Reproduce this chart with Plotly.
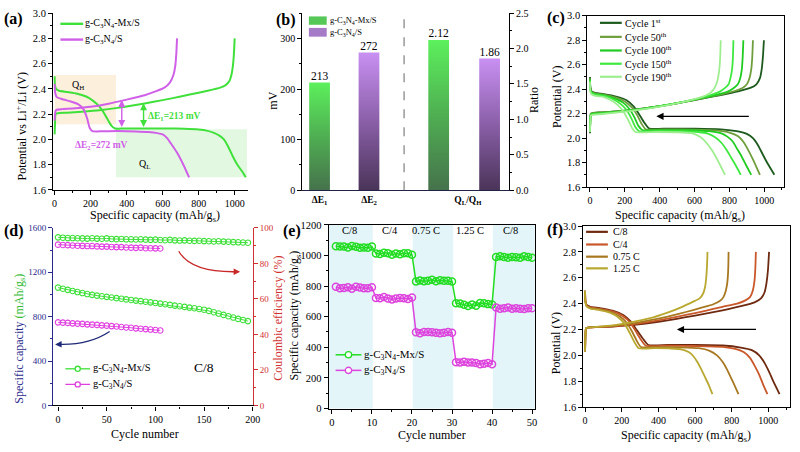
import plotly.graph_objects as go

W, H = 800, 452
FONT = "Liberation Serif"


def px(x):
    return x / W


def py(y):
    return 1 - y / H


# ---------------- DATA ----------------
# (a) voltage profiles
a_mx_dis_x = [0, 2, 8, 25, 70, 125, 190, 235, 265, 290, 315, 336, 380, 500, 620, 720, 800, 850, 885, 915, 940, 965, 990, 1015, 1040, 1062]
a_mx_dis_y = [2.50, 2.43, 2.40, 2.385, 2.375, 2.362, 2.33, 2.28, 2.23, 2.17, 2.11, 2.087, 2.086, 2.087, 2.087, 2.084, 2.078, 2.068, 2.052, 2.03, 2.0, 1.94, 1.865, 1.80, 1.75, 1.70]
a_mx_ch_x = [0, 2, 4, 8, 20, 70, 150, 250, 350, 450, 550, 650, 750, 850, 920, 950, 970, 982, 990, 996, 1000]
a_mx_ch_y = [2.04, 2.12, 2.19, 2.205, 2.208, 2.212, 2.22, 2.232, 2.25, 2.273, 2.298, 2.325, 2.355, 2.385, 2.41, 2.43, 2.46, 2.51, 2.58, 2.68, 2.80]
a_cn_dis_x = [0, 3, 12, 40, 90, 130, 160, 180, 195, 210, 260, 350, 450, 520, 570, 600, 625, 645, 678, 715, 747]
a_cn_dis_y = [2.44, 2.37, 2.335, 2.32, 2.30, 2.28, 2.24, 2.17, 2.09, 2.066, 2.064, 2.066, 2.063, 2.058, 2.05, 2.04, 2.01, 1.97, 1.90, 1.80, 1.70]
a_cn_ch_x = [0, 2, 5, 12, 40, 100, 200, 300, 400, 500, 560, 610, 640, 660, 670, 676, 680]
a_cn_ch_y = [2.15, 2.19, 2.225, 2.235, 2.24, 2.245, 2.258, 2.283, 2.315, 2.35, 2.38, 2.41, 2.45, 2.51, 2.58, 2.68, 2.80]

# (b) bars
b_mv_vals = [213, 272]
b_ratio_vals = [2.12, 1.86]
b_ticklabels = ["<b>ΔE<sub>1</sub></b>", "<b>ΔE<sub>2</sub></b>", "<b>Q<sub>L</sub>/Q<sub>H</sub></b>"]

# (c) cycling profiles
c_names = ["Cycle 1<sup>st</sup>", "Cycle 50<sup>th</sup>", "Cycle 100<sup>th</sup>", "Cycle 150<sup>th</sup>", "Cycle 190<sup>th</sup>"]
c_dis_x = [
    [0, 2, 8, 30, 80, 150, 210, 250, 280, 310, 340, 450, 600, 750, 850, 900, 935, 965, 990, 1020, 1058],
    [0, 2, 8, 30, 80, 150, 200, 240, 270, 295, 320, 450, 600, 720, 800, 850, 880, 905, 930, 950, 975],
    [0, 2, 8, 30, 80, 140, 190, 225, 255, 278, 300, 420, 560, 680, 750, 790, 820, 845, 870, 895, 925],
    [0, 2, 8, 30, 80, 130, 175, 210, 238, 260, 280, 400, 520, 620, 680, 720, 755, 785, 810, 835, 865],
    [0, 2, 8, 30, 80, 120, 160, 195, 222, 242, 260, 380, 500, 580, 620, 650, 675, 700, 725, 750, 775],
]
c_dis_y = [
    [2.50, 2.42, 2.385, 2.37, 2.36, 2.34, 2.31, 2.26, 2.2, 2.13, 2.078, 2.078, 2.078, 2.072, 2.055, 2.035, 2.0, 1.94, 1.87, 1.79, 1.70],
    [2.49, 2.41, 2.38, 2.365, 2.355, 2.33, 2.30, 2.25, 2.19, 2.12, 2.072, 2.072, 2.07, 2.063, 2.045, 2.015, 1.97, 1.91, 1.84, 1.78, 1.70],
    [2.48, 2.40, 2.375, 2.36, 2.35, 2.325, 2.29, 2.24, 2.17, 2.10, 2.066, 2.066, 2.064, 2.057, 2.04, 2.01, 1.97, 1.91, 1.85, 1.78, 1.70],
    [2.47, 2.39, 2.37, 2.355, 2.345, 2.32, 2.28, 2.23, 2.16, 2.09, 2.058, 2.058, 2.056, 2.05, 2.035, 2.005, 1.96, 1.90, 1.84, 1.78, 1.70],
    [2.46, 2.38, 2.36, 2.345, 2.335, 2.31, 2.27, 2.21, 2.14, 2.08, 2.05, 2.05, 2.048, 2.04, 2.02, 1.99, 1.95, 1.90, 1.84, 1.77, 1.70],
]
c_ch_x = [
    [0, 2, 5, 15, 60, 150, 250, 350, 450, 550, 650, 750, 850, 920, 955, 975, 985, 992, 998],
    [0, 2, 5, 15, 60, 150, 250, 350, 450, 550, 650, 750, 830, 875, 900, 915, 925, 931, 935],
    [0, 2, 5, 15, 60, 150, 250, 350, 450, 550, 650, 730, 790, 825, 848, 862, 871, 876, 880],
    [0, 2, 5, 15, 60, 150, 250, 350, 450, 550, 640, 700, 745, 775, 795, 806, 815, 820, 823],
    [0, 2, 5, 15, 60, 150, 250, 350, 450, 550, 630, 680, 705, 722, 733, 740, 745, 748, 750],
]
c_ch_y = [
    [2.04, 2.15, 2.2, 2.205, 2.21, 2.218, 2.232, 2.25, 2.272, 2.298, 2.325, 2.352, 2.382, 2.41, 2.44, 2.49, 2.56, 2.66, 2.80],
    [2.05, 2.15, 2.2, 2.205, 2.21, 2.218, 2.232, 2.25, 2.272, 2.298, 2.327, 2.356, 2.385, 2.41, 2.44, 2.49, 2.56, 2.66, 2.80],
    [2.05, 2.15, 2.195, 2.2, 2.205, 2.215, 2.23, 2.25, 2.273, 2.3, 2.33, 2.355, 2.38, 2.41, 2.44, 2.49, 2.56, 2.66, 2.80],
    [2.05, 2.14, 2.19, 2.195, 2.2, 2.212, 2.228, 2.248, 2.273, 2.3, 2.33, 2.355, 2.38, 2.41, 2.44, 2.49, 2.56, 2.66, 2.80],
    [2.05, 2.13, 2.185, 2.19, 2.195, 2.208, 2.225, 2.245, 2.27, 2.3, 2.33, 2.36, 2.39, 2.43, 2.48, 2.54, 2.61, 2.70, 2.80],
]

# (d) long cycling (every 5th cycle)
d_mx_cycles = list(range(0, 200, 5))
d_mx_cap = [1062, 1052, 1042, 1032, 1022, 1013, 1004, 997, 990, 984, 979, 973, 967, 962, 956, 951, 945, 940, 935, 929,
            924, 918, 912, 906, 900, 894, 888, 882, 876, 869, 863, 852, 840, 828, 816, 804, 792, 780, 770, 760]
d_mx_ce = [94.7, 94.5, 94.3, 94.3, 94.2, 94.1, 94.0, 94.2, 94.0, 93.9, 94.1, 93.8, 93.7, 93.8, 93.6, 93.6, 93.5, 93.6, 93.4, 93.3,
           93.4, 93.2, 93.1, 93.3, 93.0, 92.9, 93.0, 92.8, 92.7, 92.8, 92.6, 92.5, 92.4, 92.5, 92.3, 92.2, 92.0, 91.9, 91.8, 91.7]
d_cn_cycles = list(range(0, 110, 5))
d_cn_cap = [749, 746, 744, 740, 737, 735, 731, 728, 726, 722, 719, 715, 712, 707, 703, 700, 695, 691, 688, 684, 680, 676]
d_cn_ce = [90.6, 90.4, 90.3, 90.1, 90.0, 89.9, 89.8, 89.8, 89.6, 89.5, 89.5, 89.3, 89.2, 89.2, 89.0, 88.9, 88.8, 88.9, 88.6, 88.6, 88.5, 88.4]

# (e) rate capability
e_cycles = list(range(1, 51))
e_mx = [1060, 1058, 1058, 1052, 1062, 1057, 1050, 1052, 1050, 1058,
        1012, 1010, 1018, 1015, 1005, 1012, 1008, 1015, 1015, 1005,
        830, 836, 832, 835, 842, 832, 838, 835, 834, 830,
        688, 686, 678, 670, 680, 672, 690, 688, 682, 680,
        990, 995, 990, 985, 990, 988, 985, 995, 990, 985]
e_cn = [795, 785, 788, 792, 782, 795, 790, 785, 785, 792,
        722, 720, 728, 718, 712, 718, 722, 720, 715, 725,
        498, 492, 500, 500, 498, 495, 492, 495, 500, 495,
        302, 300, 306, 300, 300, 298, 290, 292, 298, 290,
        660, 652, 655, 660, 652, 655, 652, 650, 655, 655]
e_rates = ["C/8", "C/4", "0.75 C", "1.25 C", "C/8"]
e_rate_pos = [4.3, 14.4, 23.6, 34.6, 44.6]

# (f) rate profiles
f_names = ["C/8", "C/4", "0.75 C", "1.25 C"]
f_dis_x = [
    [0, 2, 8, 30, 80, 150, 210, 250, 280, 315, 345, 450, 600, 750, 850, 910, 950, 980, 1005, 1030, 1061],
    [0, 2, 8, 30, 80, 150, 205, 245, 275, 305, 332, 450, 600, 750, 820, 865, 900, 925, 950, 970, 995],
    [0, 2, 8, 30, 80, 140, 190, 228, 258, 283, 305, 400, 520, 620, 680, 720, 750, 775, 795, 815, 837],
    [0, 2, 8, 30, 80, 135, 180, 215, 245, 270, 292, 380, 470, 530, 565, 590, 612, 635, 655, 675, 695],
]
f_dis_y = [
    [2.50, 2.42, 2.39, 2.375, 2.365, 2.345, 2.31, 2.26, 2.2, 2.13, 2.08, 2.08, 2.08, 2.076, 2.06, 2.04, 2.0, 1.94, 1.87, 1.79, 1.70],
    [2.50, 2.42, 2.385, 2.37, 2.36, 2.34, 2.305, 2.255, 2.19, 2.12, 2.074, 2.074, 2.072, 2.066, 2.05, 2.025, 1.98, 1.92, 1.85, 1.78, 1.70],
    [2.50, 2.41, 2.38, 2.365, 2.355, 2.335, 2.30, 2.25, 2.18, 2.11, 2.064, 2.064, 2.062, 2.055, 2.035, 2.0, 1.95, 1.89, 1.83, 1.77, 1.70],
    [2.50, 2.41, 2.38, 2.36, 2.35, 2.33, 2.295, 2.245, 2.17, 2.10, 2.055, 2.055, 2.053, 2.045, 2.025, 1.995, 1.95, 1.89, 1.83, 1.77, 1.70],
]
f_ch_x = [
    [0, 2, 5, 15, 60, 150, 250, 350, 450, 550, 650, 750, 850, 925, 960, 980, 990, 998, 1004],
    [0, 2, 5, 15, 60, 150, 250, 350, 450, 550, 650, 750, 830, 875, 900, 915, 924, 929, 932],
    [0, 2, 5, 15, 60, 150, 250, 350, 450, 550, 640, 700, 735, 755, 768, 776, 780, 782, 783],
    [0, 2, 5, 15, 60, 150, 250, 350, 450, 530, 590, 625, 645, 655, 661, 665, 667, 668],
]
f_ch_y = [
    [2.03, 2.15, 2.21, 2.215, 2.218, 2.222, 2.233, 2.25, 2.27, 2.295, 2.32, 2.348, 2.38, 2.41, 2.44, 2.49, 2.56, 2.66, 2.80],
    [2.03, 2.15, 2.21, 2.215, 2.218, 2.224, 2.238, 2.258, 2.283, 2.312, 2.342, 2.375, 2.40, 2.425, 2.45, 2.50, 2.57, 2.67, 2.80],
    [2.03, 2.15, 2.21, 2.215, 2.22, 2.228, 2.245, 2.27, 2.30, 2.335, 2.37, 2.395, 2.42, 2.45, 2.50, 2.56, 2.63, 2.71, 2.80],
    [2.03, 2.15, 2.21, 2.215, 2.22, 2.232, 2.255, 2.285, 2.33, 2.375, 2.415, 2.44, 2.48, 2.53, 2.60, 2.68, 2.75, 2.80],
]

# ---------------- STYLE ----------------
GREEN = "#3fe03a"
PURPLE = "#d060e8"
C_COLORS = ["#1d5a1d", "#6f9e3c", "#1fcc1f", "#3fe83f", "#9eee90"]
F_COLORS = ["#6e2a10", "#c8582a", "#a87820", "#b8a830"]
NAVY = "#2a2a8c"
RED = "#d03030"
TFS = 12   # axis-title font size

fig = go.Figure()
shapes = []
annotations = []


def line_trace(x, y, color, xa, ya, width=2.0, dash=None):
    fig.add_trace(go.Scatter(x=x, y=y, mode="lines", xaxis=xa, yaxis=ya, showlegend=False,
                             line=dict(color=color, width=width, dash=dash, shape="spline", smoothing=0.5),
                             hoverinfo="skip"))


def leg_entry(x0, x1, y, color, text, tx, size, width=2.0, marker=False, mr=2.6):
    shapes.append(dict(type="line", xref="paper", yref="paper", x0=px(x0), x1=px(x1), y0=py(y), y1=py(y),
                       line=dict(color=color, width=width)))
    if marker:
        cx = (x0 + x1) / 2
        shapes.append(dict(type="circle", xref="paper", yref="paper", x0=px(cx - mr), x1=px(cx + mr),
                           y0=py(y + mr), y1=py(y - mr), fillcolor="white", line=dict(color=color, width=1.3)))
    annotations.append(dict(xref="paper", yref="paper", x=px(tx), y=py(y), text=text, showarrow=False,
                            xanchor="left", yanchor="middle", borderpad=0,
                            font=dict(family=FONT, size=size, color="black")))


def leg_rect(x0, x1, y0, y1, color, text, tx, size):
    shapes.append(dict(type="rect", xref="paper", yref="paper", x0=px(x0), x1=px(x1), y0=py(y1), y1=py(y0),
                       fillcolor=color, line=dict(width=0)))
    annotations.append(dict(xref="paper", yref="paper", x=px(tx), y=py((y0 + y1) / 2), text=text, showarrow=False,
                            xanchor="left", yanchor="middle", borderpad=0,
                            font=dict(family=FONT, size=size, color="black")))


def panel_label(x, y, t):
    annotations.append(dict(xref="paper", yref="paper", x=px(x), y=py(y), text="<b>" + t + "</b>", showarrow=False,
                            xanchor="center", yanchor="middle", borderpad=0,
                            font=dict(family=FONT, size=16, color="black")))


def axis_title(x, y, text, vertical=False, color="black", size=TFS):
    annotations.append(dict(xref="paper", yref="paper", x=px(x), y=py(y), text=text, showarrow=False,
                            xanchor="center", yanchor="middle", textangle=-90 if vertical else 0, borderpad=0,
                            font=dict(family=FONT, size=size, color=color)))


def ax(domain, rng, dtick, minor_dtick, color="black", mirror=False, fmt=None, anchor=None, fs=10.5,
       fcolor="black", **kw):
    d = dict(domain=domain, range=rng, dtick=dtick, tick0=0, ticks="outside", ticklen=4, tickwidth=1,
             tickcolor=color, showline=True, linecolor=color, linewidth=1.2, mirror=mirror, showgrid=False,
             zeroline=False, tickfont=dict(family=FONT, size=fs, color=fcolor),
             minor=dict(ticks="outside", ticklen=2, dtick=minor_dtick, tickcolor=color, showgrid=False))
    if fmt:
        d["tickformat"] = fmt
    if anchor:
        d["anchor"] = anchor
    d.update(kw)
    return d


# ---------------- (a) ----------------
line_trace(a_mx_dis_x, a_mx_dis_y, GREEN, "x", "y")
line_trace(a_mx_ch_x, a_mx_ch_y, GREEN, "x", "y")
line_trace(a_cn_dis_x, a_cn_dis_y, PURPLE, "x", "y")
line_trace(a_cn_ch_x, a_cn_ch_y, PURPLE, "x", "y")
shapes.append(dict(type="rect", xref="x", yref="y", x0=0, x1=341, y0=2.12, y1=2.51,
                   fillcolor="#fcefdc", line=dict(width=0), layer="below"))
shapes.append(dict(type="rect", xref="x", yref="y", x0=341, x1=1068, y0=1.70, y1=2.08,
                   fillcolor="#e3f8e1", line=dict(width=0), layer="below"))
annotations += [
    dict(xref="x", yref="y", x=130, y=2.43, text="Q<sub>H</sub>", showarrow=False,
         font=dict(family=FONT, size=10, color="black")),
    dict(xref="x", yref="y", x=500, y=1.80, text="Q<sub>L</sub>", showarrow=False,
         font=dict(family=FONT, size=10, color="black")),
    dict(xref="x", yref="y", x=373, y=2.313, ax=373, ay=2.087, axref="x", ayref="y", text="",
         showarrow=True, arrowhead=2, startarrowhead=2, arrowside="end+start", arrowsize=1, arrowwidth=1.4,
         arrowcolor=PURPLE),
    dict(xref="x", yref="y", x=494, y=2.287, ax=494, ay=2.087, axref="x", ayref="y", text="",
         showarrow=True, arrowhead=2, startarrowhead=2, arrowside="end+start", arrowsize=1, arrowwidth=1.4,
         arrowcolor=GREEN),
    dict(xref="x", yref="y", x=507, y=2.185, text="<b>ΔE<sub>1</sub>=213 mV</b>", showarrow=False, xanchor="left",
         font=dict(family=FONT, size=9.5, color=GREEN)),
    dict(xref="x", yref="y", x=104, y=1.955, text="<b>ΔE<sub>2</sub>=272 mV</b>", showarrow=False, xanchor="left",
         font=dict(family=FONT, size=9.5, color=PURPLE)),
]
leg_entry(60, 83, 18.3, GREEN, "g-C<sub>3</sub>N<sub>4</sub>-Mx/S", 84, 10, width=2.4)
leg_entry(60, 83, 34.5, PURPLE, "g-C<sub>3</sub>N<sub>4</sub>/S", 84, 10, width=2.4)
axis_title(21, 124, "Potential vs Li<sup>+</sup>/Li (V)", vertical=True)
axis_title(156, 216, "Specific capacity (mAh/g<sub>s</sub>)")

# ---------------- (b) ----------------
b_pos_mv = [0, 1]
b_pos_ratio = [2.41, 3.44]
bw = 0.42
G_SCALE = [[0, "#46724c"], [0.5, "#4fae52"], [1, "#5cf05c"]]
P_SCALE = [[0, "#4a3458"], [0.5, "#8a5fa8"], [1, "#c890f2"]]
for pos, val, scale, ya in [(b_pos_mv[0], b_mv_vals[0], G_SCALE, "y2"), (b_pos_mv[1], b_mv_vals[1], P_SCALE, "y2"),
                            (b_pos_ratio[0], b_ratio_vals[0], G_SCALE, "y7"),
                            (b_pos_ratio[1], b_ratio_vals[1], P_SCALE, "y7")]:
    fig.add_trace(go.Scatter(x=[pos - bw / 2, pos + bw / 2, pos + bw / 2, pos - bw / 2, pos - bw / 2],
                             y=[0, 0, val, val, 0], mode="lines", fill="toself", xaxis="x2", yaxis=ya,
                             line=dict(width=0), showlegend=False, hoverinfo="skip",
                             fillgradient=dict(type="vertical", colorscale=scale)))
fig.add_trace(go.Scatter(x=b_pos_mv, y=b_mv_vals, mode="text", text=[str(v) for v in b_mv_vals],
                         textposition="top center", xaxis="x2", yaxis="y2", showlegend=False,
                         textfont=dict(family=FONT, size=11.5, color="black"), hoverinfo="skip"))
fig.add_trace(go.Scatter(x=b_pos_ratio, y=b_ratio_vals, mode="text", text=["%.2f" % v for v in b_ratio_vals],
                         textposition="top center", xaxis="x2", yaxis="y7", showlegend=False,
                         textfont=dict(family=FONT, size=11.5, color="black"), hoverinfo="skip"))
shapes.append(dict(type="line", xref="x2", yref="paper", x0=1.71, x1=1.71, y0=py(189.3), y1=py(7.3),
                   line=dict(color="#666666", width=1, dash="dash")))
leg_rect(311, 329, 10.7, 19.3, "#55c858", "g-C<sub>3</sub>N<sub>4</sub>-Mx/S", 331, 8.5)
leg_rect(311, 329, 22.5, 31.5, "#a57bc8", "g-C<sub>3</sub>N<sub>4</sub>/S", 331, 8.5)
axis_title(275, 97, "mV", vertical=True)
axis_title(539, 97, "Ratio", vertical=True)

# ---------------- (c) ----------------
for i in range(5):
    line_trace(c_dis_x[i], c_dis_y[i], C_COLORS[i], "x3", "y3", width=1.8)
    line_trace(c_ch_x[i], c_ch_y[i], C_COLORS[i], "x3", "y3", width=1.8)
annotations.append(dict(xref="x3", yref="y3", x=381, y=2.178, ax=920, ay=2.178, axref="x3", ayref="y3", text="",
                        showarrow=True, arrowhead=2, arrowsize=1.1, arrowwidth=1.3, arrowcolor="black"))
for i, yy in enumerate([17.3, 31.7, 45.7, 59.3, 72.7]):
    leg_entry(605, 627, yy, C_COLORS[i], c_names[i], 629, 10, width=2.2)
axis_title(561, 93, "Potential (V)", vertical=True)
axis_title(686, 216, "Specific capacity (mAh/g<sub>s</sub>)")

# ---------------- (d) ----------------
fig.add_trace(go.Scatter(x=d_mx_cycles, y=d_mx_cap, mode="lines+markers", xaxis="x4", yaxis="y4", showlegend=False,
                         line=dict(color=GREEN, width=1), hoverinfo="skip",
                         marker=dict(symbol="circle-open", size=5.5, color=GREEN, line=dict(width=1.1))))
fig.add_trace(go.Scatter(x=d_cn_cycles, y=d_cn_cap, mode="lines+markers", xaxis="x4", yaxis="y4", showlegend=False,
                         line=dict(color="#e040e0", width=1), hoverinfo="skip",
                         marker=dict(symbol="circle-open", size=5.5, color="#e040e0", line=dict(width=1.1))))
fig.add_trace(go.Scatter(x=d_mx_cycles, y=d_mx_ce, mode="lines+markers", xaxis="x4", yaxis="y8", showlegend=False,
                         line=dict(color=GREEN, width=1), hoverinfo="skip",
                         marker=dict(symbol="circle-open", size=5.5, color=GREEN, line=dict(width=1.1))))
fig.add_trace(go.Scatter(x=d_cn_cycles, y=d_cn_ce, mode="lines+markers", xaxis="x4", yaxis="y8", showlegend=False,
                         line=dict(color="#e040e0", width=1), hoverinfo="skip",
                         marker=dict(symbol="circle-open", size=5.5, color="#e040e0", line=dict(width=1.1))))
shapes.append(dict(type="path", xref="x4", yref="y4", path="M 53,667 Q 32,545 2,551",
                   line=dict(color="#1e2a78", width=1.3)))
annotations.append(dict(xref="x4", yref="y4", x=-3, y=550, ax=4, ay=551, axref="x4", ayref="y4", text="",
                        showarrow=True, arrowhead=2, arrowsize=1, arrowwidth=1.3, arrowcolor="#1e2a78"))
shapes.append(dict(type="path", xref="x4", yref="y4", path="M 124,1390 Q 136,1205 180,1205",
                   line=dict(color="#c82828", width=1.3)))
annotations.append(dict(xref="x4", yref="y4", x=187, y=1205, ax=178, ay=1205, axref="x4", ayref="y4", text="",
                        showarrow=True, arrowhead=2, arrowsize=1, arrowwidth=1.3, arrowcolor="#c82828"))
annotations.append(dict(xref="x4", yref="y4", x=150, y=345, text="C/8", showarrow=False,
                        font=dict(family=FONT, size=13.5, color="black")))
leg_entry(65, 90, 372.7, GREEN, "g-C<sub>3</sub>N<sub>4</sub>-Mx/S", 92, 10.5, width=1.3, marker=True)
leg_entry(65, 90, 388.7, "#e040e0", "g-C<sub>3</sub>N<sub>4</sub>/S", 92, 10.5, width=1.3, marker=True)
axis_title(19, 342, "Specific capacity <span style='color:#33bb33'>(mAh/g<sub>s</sub>)</span>",
           vertical=True, color=NAVY)
axis_title(280, 321, "Coulombic efficiency (%)", vertical=True, color=RED)
axis_title(145, 440, "Cycle number")

# ---------------- (e) ----------------
for x0, x1 in [(-0.8, 10.2), (20.2, 30.3), (40.2, 50.7)]:
    shapes.append(dict(type="rect", xref="x5", yref="y5 domain", x0=x0, x1=x1, y0=0, y1=1,
                       fillcolor="#e3f5f8", line=dict(width=0), layer="below"))
fig.add_trace(go.Scatter(x=e_cycles, y=e_mx, mode="lines+markers", xaxis="x5", yaxis="y5", showlegend=False,
                         line=dict(color="#22dd22", width=1.5), hoverinfo="skip",
                         marker=dict(symbol="circle-open", size=7, color="#22dd22", line=dict(width=1.5))))
fig.add_trace(go.Scatter(x=e_cycles, y=e_cn, mode="lines+markers", xaxis="x5", yaxis="y5", showlegend=False,
                         line=dict(color="#dd44dd", width=1.5), hoverinfo="skip",
                         marker=dict(symbol="circle-open", size=7, color="#dd44dd", line=dict(width=1.5))))
for t, xx in zip(e_rates, e_rate_pos):
    annotations.append(dict(xref="x5", yref="y5", x=xx, y=1161, text=t, showarrow=False,
                            font=dict(family=FONT, size=10.5, color="black")))
leg_entry(338, 364, 358.3, "#22dd22", "g-C<sub>3</sub>N<sub>4</sub>-Mx/S", 366, 11, width=1.5, marker=True, mr=3.2)
leg_entry(338, 364, 374.3, "#dd44dd", "g-C<sub>3</sub>N<sub>4</sub>/S", 366, 11, width=1.5, marker=True, mr=3.2)
axis_title(297, 318, "Specific capacity (mAh/g<sub>s</sub>)", vertical=True)
axis_title(435, 441, "Cycle number")

# ---------------- (f) ----------------
for i in range(4):
    line_trace(f_dis_x[i], f_dis_y[i], F_COLORS[i], "x6", "y6", width=1.8)
    line_trace(f_ch_x[i], f_ch_y[i], F_COLORS[i], "x6", "y6", width=1.8)
annotations.append(dict(xref="x6", yref="y6", x=501, y=2.2, ax=941, ay=2.2, axref="x6", ayref="y6", text="",
                        showarrow=True, arrowhead=2, arrowsize=1.1, arrowwidth=1.3, arrowcolor="black"))
for i, yy in enumerate([232, 245, 257.5, 269.5]):
    leg_entry(591, 613, yy, F_COLORS[i], f_names[i], 617, 10, width=2.2)
axis_title(560, 346, "Potential (V)", vertical=True)
axis_title(692, 442, "Specific capacity (mAh/g<sub>s</sub>)")

# panel labels
panel_label(13, 13, "(a)")
panel_label(288, 14, "(b)")
panel_label(561, 12, "(c)")
panel_label(13, 231, "(d)")
panel_label(294, 231, "(e)")
panel_label(560, 230, "(f)")

layout = dict(
    width=W, height=H, margin=dict(l=0, r=0, t=0, b=0), paper_bgcolor="white", plot_bgcolor="white",
    showlegend=False, font=dict(family=FONT, color="black"),
    xaxis=ax([px(52.7), px(249.3)], [-8, 1073], 200, 100, anchor="y", fs=10),
    yaxis=ax([py(189), py(7.3)], [1.6, 3.0], 0.2, 0.1, fmt=".1f", anchor="x"),
    xaxis2=ax([px(304.3), px(513)], [-0.35, 3.83], 1, 1, anchor="y2", color="#222244", fs=9.5,
              tickmode="array", tickvals=[0, 1, 3.0], ticktext=b_ticklabels, ticks=""),
    yaxis2=ax([py(189.3), py(7.3)], [0, 350], 100, 50, anchor="x2", fs=10),
    yaxis7=ax(None, [0, 2.5], 0.5, 0.25, fmt=".1f", anchor="x2", overlaying="y2", side="right", fs=10),
    xaxis3=ax([px(592.3), px(790.7)], [-15, 1112], 200, 100, anchor="y3", mirror=True, fs=10),
    yaxis3=ax([py(186), py(10)], [1.6, 3.0], 0.2, 0.1, fmt=".1f", anchor="x3", mirror=True),
    xaxis4=ax([px(52.7), px(254.3)], [-5, 200], 50, 25, anchor="y4", fs=10),
    yaxis4=ax([py(410.3), py(228)], [0, 1600], 400, 200, color=NAVY, anchor="x4", fs=9, fcolor=NAVY),
    yaxis8=ax(None, [0, 100], 20, 10, color=RED, anchor="x4", overlaying="y4", side="right", fs=9, fcolor=RED),
    xaxis5=ax([px(331), px(539.3)], [-0.8, 50.7], 10, 5, anchor="y5", mirror=True),
    yaxis5=ax([py(413.5), py(224.8)], [0, 1200], 200, 100, anchor="x5", mirror=True),
    xaxis6=ax([px(588.3), px(797.3)], [-9, 1120], 200, 100, anchor="y6", mirror=True, fs=10),
    yaxis6=ax([py(412), py(226)], [1.6, 3.0], 0.2, 0.1, fmt=".1f", anchor="x6", mirror=True),
    shapes=shapes, annotations=annotations,
)
layout["xaxis2"]["minor"] = dict(ticks="")
layout["yaxis7"].pop("domain")
layout["yaxis8"].pop("domain")
fig.update_layout(**layout)
fig.write_html("out.html")
